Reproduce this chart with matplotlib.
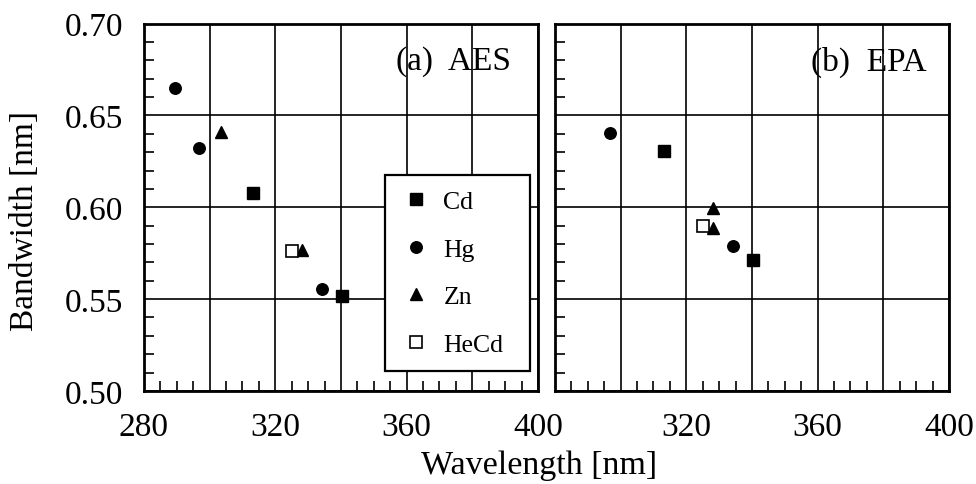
import numpy as np
import matplotlib
matplotlib.use("Agg")
import matplotlib.pyplot as plt
from matplotlib.ticker import MultipleLocator

plt.rcParams['font.family'] = ['Liberation Serif', 'DejaVu Serif']

# AES line bandwidths
aes_cd_wl = [313.2, 340.4]
aes_cd_bw = [0.608, 0.5516]
aes_hg_wl = [289.4, 296.7, 334.1]
aes_hg_bw = [0.665, 0.632, 0.5556]
aes_zn_wl = [303.6, 328.2]
aes_zn_bw = [0.6408, 0.577]
aes_hecd_wl = [325.0]
aes_hecd_bw = [0.5762]

# EPA line bandwidths
epa_cd_wl = [313.2, 340.4]
epa_cd_bw = [0.6305, 0.5715]
epa_hg_wl = [296.7, 334.1]
epa_hg_bw = [0.6403, 0.5787]
epa_zn_wl = [328.2, 328.2]
epa_zn_bw = [0.5994, 0.5885]
epa_hecd_wl = [325.0]
epa_hecd_bw = [0.5898]

xticks = [280, 300, 320, 340, 360, 380, 400]
left_xlabels = ['280', '', '320', '', '360', '', '400']
right_xlabels = ['', '', '320', '', '360', '', '400']
yticks = [0.50, 0.55, 0.60, 0.65, 0.70]

fig = plt.figure(figsize=(9.76, 4.85), dpi=100)
W, H = 976, 485
ax1 = fig.add_axes([144 / W, (H - 392) / H, 394 / W, 367.5 / H])
ax2 = fig.add_axes([555 / W, (H - 392) / H, 394 / W, 367.5 / H])


def style(ax, xlabels, show_y):
    ax.set_xlim(280, 400)
    ax.set_ylim(0.50, 0.70)
    ax.set_xticks(xticks)
    ax.set_xticklabels(xlabels)
    ax.set_yticks(yticks)
    if show_y:
        ax.set_yticklabels([f"{v:.2f}" for v in yticks])
    else:
        ax.set_yticklabels([])
    ax.xaxis.set_minor_locator(MultipleLocator(5))
    ax.yaxis.set_minor_locator(MultipleLocator(0.01))
    ax.tick_params(which='both', direction='in', top=False, right=False)
    ax.tick_params(which='major', length=0, labelsize=24, pad=15)
    ax.tick_params(which='minor', length=7, width=1.2)
    ax.grid(True, which='major', color='black', linewidth=1.2)
    ax.set_axisbelow(True)
    for s in ax.spines.values():
        s.set_linewidth(2.0)


def points(ax, cd_wl, cd_bw, hg_wl, hg_bw, zn_wl, zn_bw, he_wl, he_bw):
    ax.plot(cd_wl, cd_bw, 's', color='black', markersize=8.2, label='Cd', zorder=3)
    ax.plot(hg_wl, hg_bw, 'o', color='black', markersize=8.3, label='Hg', zorder=3)
    ax.plot(zn_wl, zn_bw, '^', color='black', markersize=8.3, label='Zn', zorder=3)
    ax.plot(he_wl, he_bw, 's', markerfacecolor='white', markeredgecolor='black',
            markeredgewidth=1.2, markersize=8, label='HeCd', zorder=3)


style(ax1, left_xlabels, True)
style(ax2, right_xlabels, False)
points(ax1, aes_cd_wl, aes_cd_bw, aes_hg_wl, aes_hg_bw,
       aes_zn_wl, aes_zn_bw, aes_hecd_wl, aes_hecd_bw)
points(ax2, epa_cd_wl, epa_cd_bw, epa_hg_wl, epa_hg_bw,
       epa_zn_wl, epa_zn_bw, epa_hecd_wl, epa_hecd_bw)

ax1.text(0.931, 0.898, '(a)  AES', transform=ax1.transAxes, fontsize=24,
         ha='right', va='center')
ax2.text(0.944, 0.898, '(b)  EPA', transform=ax2.transAxes, fontsize=24,
         ha='right', va='center')

leg = ax1.legend(loc='upper left', bbox_to_anchor=(0.612, 0.0, 0.368, 0.588),
                 mode='expand', fontsize=18.5,
                 frameon=True, fancybox=False, framealpha=1, edgecolor='black',
                 labelspacing=0.95, handlelength=1.2, handletextpad=0.47,
                 borderpad=0.6, borderaxespad=0, markerscale=1.0)
leg.get_frame().set_linewidth(1.6)
leg.set_zorder(5)

fig.text(25 / W, 1 - 221 / H, 'Bandwidth [nm]', rotation=90, fontsize=24,
         ha='center', va='center')
fig.text(539 / W, 1 - 466 / H, 'Wavelength [nm]', fontsize=24.5,
         ha='center', va='center')

fig.savefig('out.png', dpi=100)
